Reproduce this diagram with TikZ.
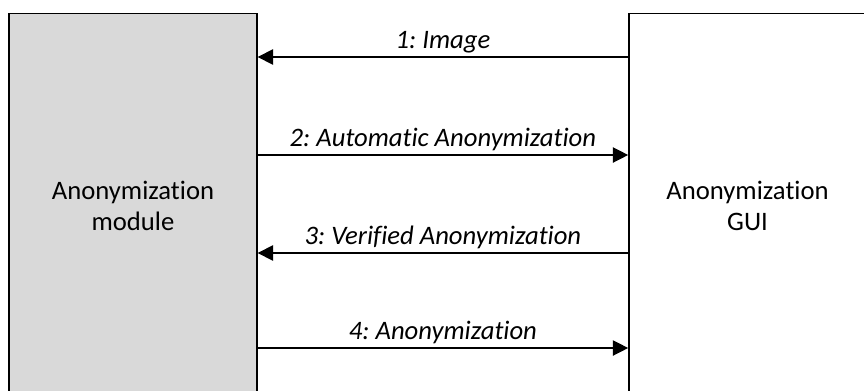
\documentclass[tikz,border=0pt]{standalone}
\usepackage{fontspec}
\setmainfont{Carlito}[Ligatures=NoCommon]
\usetikzlibrary{arrows.meta}
\frenchspacing

\tikzset{
  block/.style={draw, line width=1pt, align=center, inner sep=0pt},
  msg/.style={line width=1pt, -{Triangle[length=11.5pt,width=11.5pt]}},
  msglabel/.style={above, font=\fontsize{20}{23}\selectfont\itshape, inner sep=2.5pt}
}

\begin{document}
\begin{tikzpicture}[x=0.75pt,y=0.75pt,yscale=-1,xscale=1,
  every node/.style={font=\fontsize{20}{23}\selectfont}]
\useasboundingbox (0,0) rectangle (864,390);
\clip (0,0) rectangle (864,390);

% the two parties
\node[block, fill={rgb,255:red,217;green,217;blue,217}, minimum width=186pt, minimum height=289pt] (module) at (133,206) {Anonymization\\module};
\node[block, fill=white, minimum width=178pt, minimum height=289pt] (gui) at (747.5,206) {Anonymization\\GUI};

% heights of the messages
\coordinate (m1) at (0,57);
\coordinate (m2) at (0,155);
\coordinate (m3) at (0,253);
\coordinate (m4) at (0,348);

% messages
\draw[msg] (gui.west |- m1) -- node[msglabel] {1: Image} (module.east |- m1);
\draw[msg] (module.east |- m2) -- node[msglabel] {2: Automatic Anonymization} (gui.west |- m2);
\draw[msg] (gui.west |- m3) -- node[msglabel] {3: Verified Anonymization} (module.east |- m3);
\draw[msg] (module.east |- m4) -- node[msglabel] {4: Anonymization} (gui.west |- m4);
\end{tikzpicture}
\end{document}
